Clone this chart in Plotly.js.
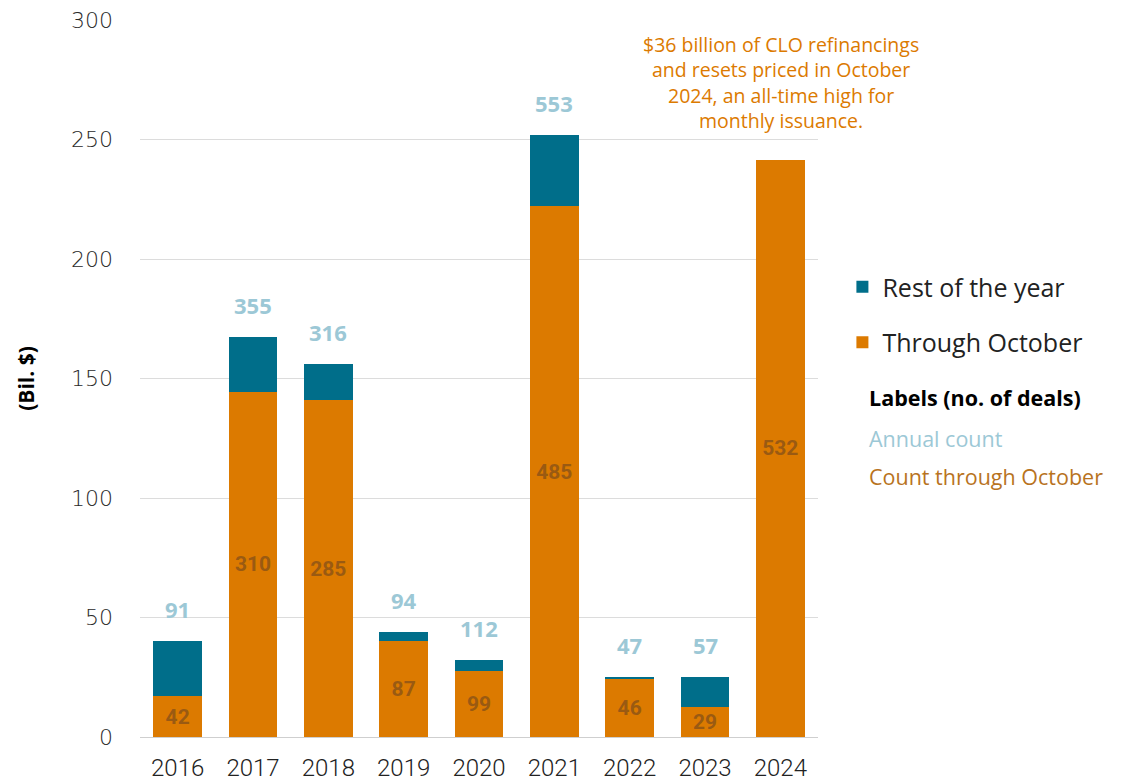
<!DOCTYPE html>
<html><head><meta charset="utf-8">
<script src="https://cdn.plot.ly/plotly-3.0.1.min.js"></script>
<style>body{margin:0;background:#fff}#chart{width:1125px;height:782px}</style>
</head><body><div id="chart"></div>
<script>
const years = ['2016','2017','2018','2019','2020','2021','2022','2023','2024'];
const throughOctober = [17, 144.5, 141, 40, 27.5, 222, 24.4, 12.5, 241.5];
const restOfYear = [23, 23, 15, 4, 4.7, 30, 0.7, 12.5, 0];
const countThroughOctober = ['42','310','285','87','99','485','46','29','532'];
const annualCount = ['91','355','316','94','112','553','47','57',''];

const FONT = '"Open Sans", "Liberation Sans", sans-serif';
const NUMFONT = 'Roboto, "Liberation Sans", sans-serif';
const ORANGE = '#dc7a00', TEAL = '#006e8a', LIGHTBLUE = '#9cc8d6', BROWN = '#9a5a12';

const traces = [
  {type:'bar', name:'Through October', legendgroup:'b', legendrank:2, x:years, y:throughOctober, marker:{color:ORANGE},
   text:countThroughOctober, textposition:'inside', insidetextanchor:'middle',
   textfont:{family:NUMFONT, size:21, color:BROWN, weight:'bold'}, hoverinfo:'y'},
  {type:'bar', name:'Rest of the year', legendgroup:'a', legendrank:1, x:years, y:restOfYear, marker:{color:TEAL},
   textposition:'none', hoverinfo:'y'}
];

const annotations = years.map((yr,i)=>({
  x:i, y:throughOctober[i]+restOfYear[i], xref:'x', yref:'y',
  text:annualCount[i], showarrow:false, yanchor:'bottom', yshift:15,
  font:{family:FONT, size:22, color:LIGHTBLUE, weight:'bold'}
}));
annotations.push(
  {xref:'paper', yref:'paper', x:0.946, y:1.0, xanchor:'center', yanchor:'top', yshift:-9,
   text:'$36 billion of CLO refinancings<br>and resets priced in October<br>2024, an all-time high for<br>monthly issuance.',
   showarrow:false, align:'center', font:{family:FONT, size:19.5, color:ORANGE}},
  {xref:'paper', yref:'paper', x:1.073, y:(737-398)/717, xanchor:'left', yanchor:'middle',
   text:'<b>Labels (no. of deals)</b>', showarrow:false, font:{family:FONT, size:21.5, color:'#000'}},
  {xref:'paper', yref:'paper', x:1.073, y:(737-438)/717, xanchor:'left', yanchor:'middle',
   text:'Annual count', showarrow:false, font:{family:FONT, size:21.5, color:LIGHTBLUE}},
  {xref:'paper', yref:'paper', x:1.073, y:(737-477)/717, xanchor:'left', yanchor:'middle',
   text:'Count through October', showarrow:false, font:{family:FONT, size:21.5, color:'#b8731e'}}
);

const layout = {
  width:1125, height:782,
  margin:{l:140, r:307, t:20, b:45},
  barmode:'stack', bargap:0.35,
  paper_bgcolor:'#fff', plot_bgcolor:'#fff',
  font:{family:FONT, color:'#333'},
  xaxis:{type:'category', range:[-0.5,8.5], tickfont:{family:NUMFONT, size:24, color:'#222', weight:300},
         showgrid:false, showline:false, ticks:'', ticklen:0, ticklabelstandoff:14},
  yaxis:{range:[0,300], dtick:50, tickfont:{family:'"DejaVu Sans", sans-serif', size:22, color:'#2a2a2a', weight:200},
         gridcolor:'#dcdcdc', gridwidth:1,
         zeroline:true, zerolinecolor:'#cfcfcf', zerolinewidth:1, ticks:'', ticklabelstandoff:26,
         title:{text:'<b>(Bil. $)</b>', font:{family:FONT, size:21, color:'#000'}, standoff:30}},
  showlegend:true,
  legend:{x:1.036, y:(737-264)/717, xanchor:'left', yanchor:'top', traceorder:'grouped',
          font:{size:25, color:'#222', family:FONT}, itemsizing:'constant', tracegroupgap:20},
  annotations:annotations
};
Plotly.newPlot('chart', traces, layout, {displayModeBar:false});
</script></body></html>
